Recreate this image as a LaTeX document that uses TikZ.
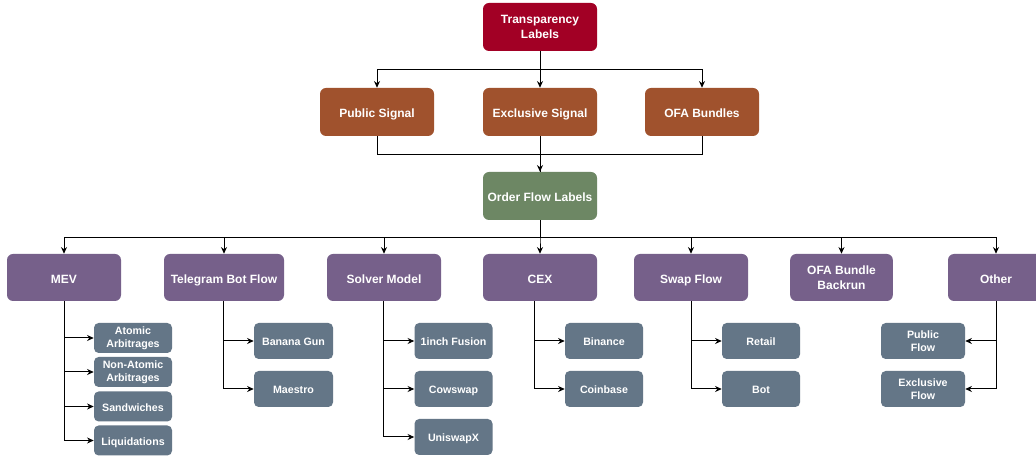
\documentclass[tikz,border=0pt]{standalone}
\usepackage{fontspec}
\setmainfont{Liberation Sans}
\usetikzlibrary{arrows.meta}
\definecolor{cRed}{HTML}{A20025}
\definecolor{cOrange}{HTML}{A0522D}
\definecolor{cGreen}{HTML}{6D8764}
\definecolor{cPurple}{HTML}{76608A}
\definecolor{cGray}{HTML}{647687}
\tikzset{
  box/.style={rounded corners=4.5pt, draw=none, text=white, align=center,
    font=\fontsize{9}{11}\selectfont\bfseries, inner sep=1pt,
    minimum width=85.5pt, minimum height=36pt},
  one/.style={text height=8.3pt, text depth=0pt},
  oneleaf/.style={text height=7.2pt, text depth=0pt},
  topbox/.style={box, fill=cRed},
  sigbox/.style={box, one, fill=cOrange},
  ofbox/.style={box, one, fill=cGreen},
  catbox/.style={box, fill=cPurple, minimum height=35.25pt},
  leafbox/.style={box, fill=cGray, rounded corners=3.5pt,
    font=\fontsize{8}{9.6}\selectfont\bfseries,
    minimum width=58.5pt, minimum height=27pt},
  mevleaf/.style={leafbox, minimum height=22.5pt},
  arr/.style={draw=black, line width=0.75pt, -{Stealth[length=5pt,width=4.5pt]}},
  ln/.style={draw=black, line width=0.75pt},
}
\begin{document}
\begin{tikzpicture}[x=0.75pt,y=-0.75pt]
\clip (0,0) rectangle (1036,459);
\fill[white] (0,0) rectangle (1036,459);
% level 1
\node[topbox] (T) at (540,27) {Transparency\\Labels};
% level 2
\node[sigbox] (PS) at (377,112) {Public Signal};
\node[sigbox] (ES) at (540,112) {Exclusive Signal};
\node[sigbox] (OB) at (702,112) {OFA Bundles};
% order flow
\node[ofbox] (OFL) at (540,196) {Order Flow Labels};
% level 3
\node[catbox, one] (MEV) at (64,277.5) {MEV};
\node[catbox, one, minimum width=90pt] (TG) at (224,277.5) {Telegram Bot Flow};
\node[catbox, one] (SM) at (384,277.5) {Solver Model};
\node[catbox, one] (CEX) at (540,277.5) {CEX};
\node[catbox, one] (SF) at (691,277.5) {Swap Flow};
\node[catbox, minimum width=77pt] (OBB) at (841.5,277.5) {OFA Bundle\\Backrun};
\node[catbox, one, minimum width=72pt] (OT) at (996,277.5) {Other};
% MEV leaves
\node[mevleaf] (AA) at (133,338) {Atomic\\Arbitrages};
\node[mevleaf] (NA) at (133,372) {Non-Atomic\\Arbitrages};
\node[mevleaf, oneleaf] (SW) at (133,406.5) {Sandwiches};
\node[mevleaf, oneleaf] (LQ) at (133,440.5) {Liquidations};
% Telegram leaves
\node[leafbox, oneleaf, minimum width=59.25pt] (BG) at (293.5,341) {Banana Gun};
\node[leafbox, oneleaf, minimum width=59.25pt] (MA) at (293.5,389) {Maestro};
% Solver leaves
\node[leafbox, oneleaf] (IF) at (453.5,341) {1inch Fusion};
\node[leafbox, oneleaf] (CW) at (453.5,389) {Cowswap};
\node[leafbox, oneleaf] (UX) at (453.5,437) {UniswapX};
% CEX leaves
\node[leafbox, oneleaf] (BN) at (604,341) {Binance};
\node[leafbox, oneleaf] (CB) at (604,389) {Coinbase};
% Swap leaves
\node[leafbox, oneleaf] (RT) at (761,341) {Retail};
\node[leafbox, oneleaf] (BT) at (761,389) {Bot};
% Other leaves
\node[leafbox, minimum width=63pt] (PF) at (923,341) {Public\\Flow};
\node[leafbox, minimum width=63pt] (EF) at (923,389) {Exclusive\\Flow};

% connectors level1 -> level2
\draw[arr] (T) -- (ES);
\draw[arr] (T.south) -- ++(0,18) -| (PS.north);
\draw[arr] (T.south) -- ++(0,18) -| (OB.north);
% level2 -> order flow
\draw[arr] (ES) -- (OFL);
\draw[ln] (PS.south) -- ++(0,18) -| (OFL.north);
\draw[ln] (OB.south) -- ++(0,18) -| (OFL.north);
% order flow -> level 3
\foreach \n in {MEV,TG,SM,CEX,SF,OBB,OT}
  \draw[arr] (OFL.south) -- ++(0,17) -| (\n.north);
% MEV
\foreach \n in {AA,NA,SW,LQ}
  \draw[arr] (MEV.south) |- (\n.west);
% Telegram
\foreach \n in {BG,MA}
  \draw[arr] ([xshift=-0.75pt]TG.south) |- (\n.west);
% Solver
\foreach \n in {IF,CW,UX}
  \draw[arr] ([xshift=-0.75pt]SM.south) |- (\n.west);
% CEX
\foreach \n in {BN,CB}
  \draw[arr] ([xshift=-4.5pt]CEX.south) |- (\n.west);
% Swap
\foreach \n in {RT,BT}
  \draw[arr] (SF.south) |- (\n.west);
% Other
\foreach \n in {PF,EF}
  \draw[arr] (OT.south) |- (\n.east);
\end{tikzpicture}
\end{document}
